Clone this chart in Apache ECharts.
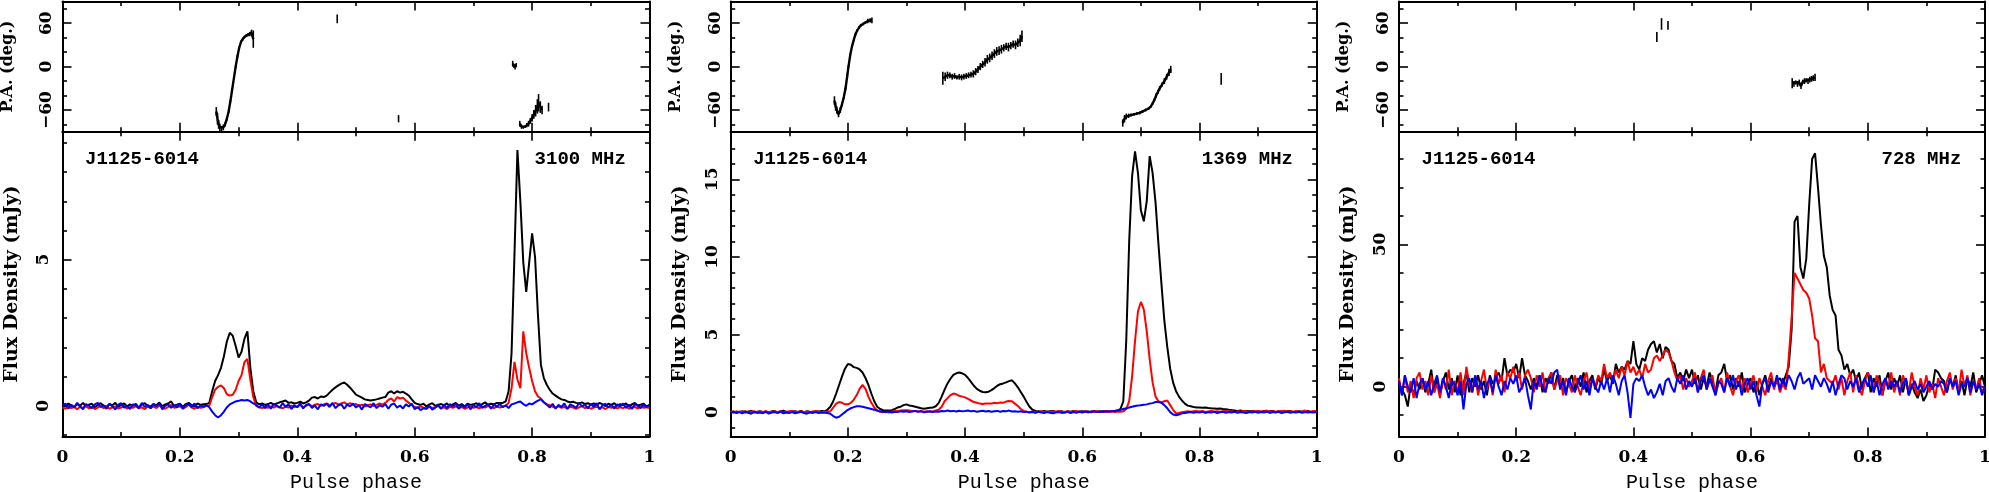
<!DOCTYPE html>
<html><head><meta charset="utf-8">
<script src="https://cdn.jsdelivr.net/npm/echarts@6/dist/echarts.min.js"></script>
<style>html,body{margin:0;padding:0;background:#fff}#c{width:1989px;height:492px}</style>
</head><body><div id="c"></div>
<script>
// ---------- data ----------
const pulsar = 'J1125-6014';
const freqs = ['3100 MHz', '1369 MHz', '728 MHz'];
const phaseStep = 0.005; // profile bin width (201 bins, 0..1)

// 3100 MHz: total intensity (I), linear (L), circular (V) in mJy
const i3100 = [0.05,-0.02,0.08,0.01,-0.04,0.06,0.0,0.1,-0.03,0.04,
0.07,-0.05,0.03,0.09,0.0,-0.03,0.06,0.02,0.1,-0.04,
0.03,0.08,-0.02,0.05,0.0,0.07,-0.06,0.04,0.09,0.01,
-0.03,0.06,0.02,0.11,-0.02,0.05,0.08,0.15,0.0,0.04,
0.07,-0.04,0.06,0.1,0.02,-0.03,0.08,0.03,0.05,0.06,
0.1,0.5,0.85,1.05,1.3,1.7,2.2,2.5,2.4,2.05,
1.65,1.85,2.3,2.55,1.3,0.5,0.12,0.05,0.08,0.03,
0.06,0.1,0.04,0.08,0.12,0.15,0.18,0.1,0.12,0.08,
0.1,0.14,0.08,0.12,0.18,0.28,0.3,0.25,0.32,0.3,
0.35,0.45,0.55,0.63,0.7,0.76,0.8,0.72,0.62,0.5,
0.38,0.33,0.28,0.22,0.2,0.18,0.2,0.22,0.25,0.28,
0.3,0.45,0.5,0.42,0.5,0.45,0.48,0.42,0.35,0.22,
0.1,0.06,0.03,0.07,-0.02,0.05,0.09,0.0,0.04,0.06,
0.02,0.08,-0.03,0.05,0.1,0.01,0.06,-0.02,0.07,0.03,
0.05,0.09,0.0,0.06,0.12,0.03,0.07,0.05,0.1,0.1,
0.1,0.15,0.5,1.8,5.2,8.75,7.0,4.9,3.9,4.9,
5.9,5.1,3.1,1.4,0.95,0.72,0.55,0.42,0.35,0.28,
0.22,0.2,0.15,0.12,0.14,0.1,0.08,0.12,0.06,0.09,
0.04,0.08,0.02,0.1,0.05,-0.01,0.07,0.03,0.09,0.0,
0.06,0.02,0.08,-0.03,0.05,0.1,0.01,0.04,0.07,-0.02,0.03];
const l3100 = [-0.05,-0.1,-0.02,-0.08,-0.04,-0.12,-0.03,-0.07,0.0,-0.09,
-0.04,-0.11,-0.06,0.01,-0.08,-0.03,-0.1,-0.05,-0.02,-0.09,
-0.06,0.0,-0.1,-0.04,-0.07,-0.01,-0.09,-0.05,-0.11,-0.03,
-0.07,-0.02,-0.08,0.02,-0.06,-0.1,-0.04,0.03,-0.07,-0.05,
-0.02,-0.09,-0.04,0.04,-0.06,-0.1,-0.03,-0.07,-0.05,0.0,
0.0,0.3,0.55,0.65,0.7,0.6,0.4,0.35,0.38,0.55,
0.85,1.05,1.5,1.6,0.9,0.3,0.0,-0.05,-0.08,-0.04,
-0.07,-0.02,-0.06,0.0,-0.05,-0.09,-0.03,-0.06,0.01,-0.04,
-0.02,0.03,-0.05,0.0,0.05,-0.02,0.04,0.06,0.0,0.05,
0.08,0.02,0.06,0.1,0.04,0.08,0.12,0.05,0.09,0.03,
0.06,0.0,0.04,-0.03,0.02,0.05,-0.01,0.03,0.08,0.04,
0.1,0.2,0.25,0.15,0.3,0.25,0.28,0.18,0.1,0.02,
-0.04,-0.08,-0.02,-0.06,-0.1,-0.03,-0.07,-0.05,0.0,-0.09,
-0.05,-0.11,-0.03,-0.07,-0.02,-0.08,-0.04,-0.1,-0.06,-0.01,
-0.07,-0.04,-0.09,-0.02,-0.06,0.0,-0.05,-0.08,-0.03,-0.06,
-0.02,0.0,0.1,0.6,1.5,0.9,0.6,2.55,1.8,1.3,
0.85,0.5,0.32,0.25,0.12,0.05,0.02,-0.03,-0.06,-0.02,
-0.07,-0.04,-0.09,-0.03,-0.06,-0.1,-0.05,-0.02,-0.08,-0.04,
-0.1,-0.06,-0.03,-0.08,-0.05,-0.11,-0.04,-0.07,-0.02,-0.09,
-0.05,-0.08,-0.03,-0.1,-0.06,-0.04,-0.09,-0.02,-0.07,-0.05,-0.08];
const v3100 = [0.0,0.08,-0.1,0.04,-0.06,0.1,-0.03,-0.12,0.06,0.0,
-0.08,0.05,0.1,-0.05,0.02,-0.1,0.07,-0.02,-0.13,0.04,
0.09,-0.06,0.0,-0.11,0.05,0.02,-0.08,0.1,-0.04,0.03,
-0.09,0.06,-0.02,0.08,-0.12,0.0,0.05,-0.07,0.03,-0.05,
0.07,-0.1,0.02,0.06,-0.04,0.08,-0.08,0.01,-0.03,0.02,
-0.05,-0.2,-0.32,-0.4,-0.32,-0.2,-0.05,0.05,0.1,0.15,
0.17,0.2,0.18,0.2,0.15,0.08,0.03,-0.06,0.05,-0.08,
0.04,-0.1,0.07,0.0,-0.06,0.09,-0.03,0.05,-0.11,0.02,
-0.05,0.08,-0.09,0.03,0.06,-0.07,0.01,-0.12,0.05,0.0,
0.07,-0.04,0.1,-0.08,0.02,0.05,-0.1,0.04,-0.02,0.08,
-0.06,0.03,-0.13,0.06,0.0,-0.05,0.09,-0.08,0.02,-0.03,
0.06,-0.1,0.04,0.08,-0.06,0.01,-0.09,0.05,-0.02,0.07,
-0.12,-0.04,-0.15,-0.08,-0.1,0.0,-0.13,-0.06,0.02,-0.1,
0.04,-0.08,0.06,-0.03,0.08,-0.1,0.02,-0.06,0.05,-0.12,
0.03,-0.05,0.09,-0.07,0.0,0.06,-0.1,0.04,-0.03,0.07,
-0.05,0.02,-0.08,0.05,0.08,0.12,0.15,0.06,0.0,0.08,
0.05,0.12,0.18,0.22,0.12,0.04,-0.06,0.07,-0.1,0.03,
-0.04,0.08,-0.11,0.05,0.0,-0.07,0.1,-0.02,0.04,-0.09,
0.06,-0.03,0.09,-0.12,0.02,0.07,-0.05,0.03,-0.1,0.05,
-0.02,0.08,-0.07,0.04,-0.11,0.06,0.0,-0.08,0.05,-0.04,0.02];

// 1369 MHz
const i1369 = [0.03,-0.02,0.05,0.0,0.06,-0.03,0.04,0.08,-0.01,0.02,
0.06,0.0,0.04,-0.04,0.05,0.07,-0.02,0.03,0.09,0.01,
-0.03,0.04,0.06,0.0,0.08,-0.02,0.05,0.02,-0.04,0.06,
0.03,0.07,0.05,0.15,0.35,0.7,1.2,1.75,2.3,2.8,
3.1,3.05,2.9,2.85,2.75,2.55,2.2,1.75,1.2,0.7,
0.35,0.2,0.12,0.1,0.1,0.12,0.2,0.3,0.35,0.45,
0.5,0.42,0.4,0.35,0.3,0.25,0.22,0.25,0.28,0.3,
0.38,0.6,1.0,1.45,1.85,2.15,2.4,2.5,2.55,2.5,
2.4,2.2,1.95,1.7,1.5,1.38,1.3,1.28,1.32,1.42,
1.55,1.7,1.8,1.85,1.92,2.0,2.05,1.85,1.6,1.3,
1.0,0.65,0.35,0.15,0.08,0.06,0.03,0.07,0.02,0.05,
0.08,0.01,0.04,0.06,-0.02,0.05,0.03,0.07,0.0,0.04,
0.06,0.02,0.05,-0.01,0.07,0.03,0.06,0.01,0.08,0.04,
0.05,0.08,0.1,0.2,0.7,4.6,11.0,15.2,16.8,15.4,
13.0,12.3,13.6,16.5,15.4,13.5,10.8,8.3,5.9,4.2,
2.8,1.9,1.35,1.0,0.75,0.55,0.42,0.38,0.33,0.3,
0.3,0.28,0.3,0.27,0.25,0.24,0.22,0.23,0.2,0.19,
0.15,0.13,0.1,0.08,0.1,0.06,0.08,0.05,0.07,0.04,
0.06,0.03,0.07,0.02,0.05,0.08,0.01,0.04,0.06,0.02,
0.05,0.07,0.0,0.04,0.06,0.02,0.05,0.08,0.01,0.04,0.03];
const l1369 = [0.02,0.05,-0.02,0.04,0.0,0.07,-0.03,0.03,0.06,-0.01,
0.04,0.01,0.06,-0.02,0.03,0.05,0.0,0.07,-0.03,0.02,
0.05,0.08,-0.01,0.03,0.06,0.0,0.04,-0.02,0.05,0.02,
0.06,0.0,0.03,0.02,0.05,0.3,0.55,0.65,0.6,0.5,
0.5,0.6,0.8,1.1,1.5,1.75,1.5,1.0,0.6,0.3,
0.1,0.02,0.0,0.03,-0.02,0.04,0.05,0.08,0.1,0.12,
0.12,0.1,0.08,0.06,0.04,0.07,0.02,0.05,0.03,0.06,
0.1,0.15,0.35,0.7,0.9,1.1,1.2,1.15,1.05,1.0,
0.95,0.85,0.75,0.65,0.6,0.55,0.52,0.55,0.55,0.55,
0.6,0.58,0.62,0.6,0.68,0.72,0.7,0.55,0.4,0.2,
0.08,0.02,0.0,0.04,-0.02,0.03,0.06,0.0,0.04,-0.01,
0.05,0.02,0.07,-0.02,0.03,0.06,0.0,0.04,0.08,0.01,
0.03,0.06,-0.01,0.05,0.02,0.07,0.0,0.04,0.06,0.02,
0.05,0.0,0.03,0.02,0.05,0.2,0.7,2.3,4.6,6.5,
7.1,6.6,5.2,3.4,1.9,1.0,0.7,0.62,0.7,0.75,
0.45,0.15,-0.08,-0.05,0.0,0.03,0.06,0.02,0.05,0.08,
0.04,0.07,0.01,0.05,0.09,0.03,0.06,0.02,0.05,0.08,
0.03,0.06,0.0,0.05,0.02,0.07,0.04,0.0,0.06,0.03,
0.08,0.02,0.05,0.1,0.03,0.06,0.01,0.07,0.04,0.09,
0.02,0.06,0.03,0.08,0.0,0.05,0.1,0.04,0.02,0.07,0.03];
const v1369 = [-0.03,0.02,-0.06,0.0,-0.08,0.03,-0.04,-0.1,0.01,-0.05,
-0.02,-0.07,0.02,-0.09,-0.03,0.0,-0.06,0.03,-0.08,-0.02,
-0.05,0.01,-0.07,-0.03,0.02,-0.06,-0.1,-0.01,-0.04,0.0,
-0.06,-0.02,-0.04,-0.05,-0.1,-0.25,-0.36,-0.3,-0.15,0.0,
0.15,0.25,0.32,0.38,0.38,0.35,0.3,0.25,0.2,0.15,
0.1,0.05,0.02,0.0,0.04,-0.02,0.03,0.0,0.05,0.02,
0.06,0.01,0.04,0.08,0.02,0.05,-0.01,0.03,0.06,0.0,
0.04,0.02,0.07,0.05,0.1,0.06,0.08,0.04,0.09,0.05,
0.07,0.1,0.05,0.08,0.03,0.06,0.09,0.04,0.07,0.02,
0.06,0.08,0.03,0.07,0.05,0.1,0.04,0.06,0.02,0.05,
0.0,0.03,-0.03,0.01,-0.05,0.02,-0.02,-0.06,0.0,-0.04,
-0.07,-0.02,0.01,-0.05,-0.03,0.02,-0.06,0.0,-0.04,0.03,
-0.02,0.04,-0.01,0.02,0.05,0.0,0.03,0.06,0.02,0.04,
0.05,0.08,0.1,0.15,0.2,0.25,0.3,0.35,0.4,0.42,
0.45,0.48,0.5,0.55,0.58,0.65,0.65,0.6,0.45,0.25,
0.0,-0.15,-0.2,-0.15,-0.08,-0.05,-0.02,0.01,-0.04,0.0,
-0.03,0.02,-0.05,0.0,-0.02,0.03,-0.06,-0.01,0.02,-0.04,
0.0,-0.03,0.02,-0.05,0.01,-0.02,-0.06,0.0,-0.03,0.02,
-0.04,0.01,-0.02,0.03,-0.05,0.0,-0.03,0.02,-0.06,-0.01,
0.02,-0.04,0.0,-0.02,0.03,-0.05,0.01,-0.03,0.0,-0.02,0.01];

// 728 MHz
const i728 = [0,-1,-3,-7,1,-3,2,-1,3,-2,
1,6,-2,3,-3,2,5,-1,3,-2,
4,-3,1,5,-2,3,0,4,-1,2,
-3,4,1,3,5,2,10,4,6,5,
8,3,10,4,2,-1,3,0,4,-2,
3,1,5,-1,4,0,3,-2,2,4,
-1,3,0,5,-2,2,4,-1,3,1,
6,2,4,1,8,5,7,6,9,8,
16,8,6,10,9,13,15,16,12,15,
10,14,13,9,8,3,5,2,6,3,
6,1,4,-1,3,0,5,2,-2,4,
5,8,2,4,-1,3,0,5,-2,1,
3,-2,2,-3,1,4,-1,3,0,2,
3,1,4,7,20,58,60,42,38,45,
64,80,82,70,57,46,42,32,27,25,
13,11,6,8,4,6,2,5,-1,3,
5,-2,3,0,4,-3,2,5,-1,3,
0,4,-2,3,-3,1,-2,-4,-1,-5,
-3,1,-1,6,5,3,2,-2,3,0,
4,-2,2,-3,3,0,5,-2,1,4,0];
const l728 = [3,-3,4,-2,2,-4,3,5,-1,2,
-3,4,-2,1,-4,3,-1,6,-3,2,
-2,5,-3,7,1,-2,4,-3,2,6,
-1,3,-3,6,1,4,-2,5,3,7,
2,5,-1,4,6,3,-2,4,0,5,
-2,3,5,-1,2,4,-3,3,1,-2,
4,0,-3,2,5,-1,3,0,4,2,
8,3,5,2,6,3,7,4,9,5,
7,4,6,3,8,5,6,10,11,9,
11,13,12,9,5,2,4,-1,3,0,
2,5,-2,3,6,-1,2,4,-3,1,
3,-2,5,0,-3,2,4,-1,3,-2,
1,4,-2,3,0,-3,2,5,-1,3,
-2,1,-1,10,24,40,38,36,34,33,
31,25,17,16,5,8,3,2,1,4,
-1,3,-3,2,5,-2,4,0,-3,2,
5,3,-2,4,1,-3,3,0,5,-2,
2,-3,4,1,-2,5,0,-3,3,-1,
4,-2,1,-4,3,0,-3,2,5,-1,
3,-2,6,0,4,-3,2,-1,3,-2,0];
const v728 = [2,-3,4,0,-2,3,-4,1,3,-1,
2,-3,1,4,-2,3,0,-4,2,1,
-3,2,-8,1,3,-2,4,-1,2,-4,
1,3,-2,4,0,-3,2,-1,3,1,
4,-2,0,3,-3,-8,2,-1,4,0,
-2,3,1,5,6,-1,2,-3,3,0,
-2,1,4,-1,2,-3,3,0,-2,2,
-1,3,-2,4,1,-3,2,4,-2,-11,
1,3,2,4,0,-3,-1,-4,-2,1,
-3,2,3,0,-2,3,1,4,-1,2,
0,3,-2,2,4,-1,3,0,-3,2,
1,-2,3,0,4,-1,2,-3,1,3,
-1,2,-3,-7,1,3,-2,2,0,4,
-1,3,0,4,2,-1,3,5,1,2,
3,-1,4,2,0,3,1,-2,2,-3,
1,4,3,-1,2,0,3,-2,1,3,
0,4,-2,2,-3,1,3,-1,2,0,
2,-2,1,3,-3,0,2,-1,1,-2,
0,2,-1,1,0,2,1,-2,3,0,
2,-3,1,0,3,-2,2,-1,1,-3,0];

// Position angle segments: [phase, PA (deg), error (deg)]
const pa3100 = [
 [[0.262,-62,6],[0.264,-72,8],[0.266,-80,6],[0.268,-84,5],[0.271,-86,4],[0.274,-84,4],[0.277,-80,3],[0.280,-72,3],[0.283,-62,2],[0.286,-48,2],[0.289,-32,2],[0.292,-16,2],[0.295,0,2],[0.298,14,2],[0.301,26,2],[0.304,34,2],[0.307,38,2],[0.310,41,2],[0.313,43,2],[0.316,44,2],[0.319,45,3],[0.322,47,4],[0.325,38,12]],
 [[0.468,66,6]],
 [[0.5725,-72,5]],
 [[0.767,4,4],[0.769,1,3],[0.771,-1,3],[0.773,2,3]],
 [[0.779,-79,4],[0.782,-83,3],[0.785,-84,2],[0.788,-83,2],[0.791,-81,3],[0.794,-79,4],[0.797,-75,4],[0.800,-71,5],[0.803,-66,6],[0.806,-61,8],[0.809,-55,10],[0.811,-50,12],[0.814,-56,8],[0.817,-60,6]],
 [[0.828,-56,6]]
];
const pa1369 = [
 [[0.177,-47,6],[0.179,-55,6],[0.181,-60,5],[0.184,-66,4],[0.187,-60,4],[0.190,-52,3],[0.193,-42,3],[0.196,-30,3],[0.199,-12,3],[0.201,0,2],[0.204,16,2],[0.207,28,2],[0.210,37,2],[0.213,45,2],[0.216,50,2],[0.219,54,2],[0.222,57,2],[0.226,59,2],[0.230,61,2],[0.234,63,3],[0.238,64,3],[0.241,64,4]],
 [[0.362,-16,9],[0.366,-14,6],[0.370,-12,5],[0.374,-12,4],[0.378,-14,4],[0.382,-13,4],[0.386,-15,3],[0.390,-14,4],[0.394,-15,4],[0.398,-14,4],[0.402,-13,4],[0.406,-12,4],[0.410,-11,4],[0.414,-10,5],[0.418,-7,5],[0.422,-4,5],[0.426,0,5],[0.430,3,5],[0.434,6,6],[0.438,10,6],[0.442,12,6],[0.446,15,6],[0.450,18,6],[0.454,21,6],[0.458,22,6],[0.462,24,6],[0.466,26,5],[0.470,28,5],[0.474,27,6],[0.478,29,5],[0.482,31,5],[0.486,30,6],[0.490,33,6],[0.494,36,8],[0.497,42,8]],
 [[0.669,-78,5],[0.672,-72,5],[0.675,-69,4],[0.679,-68,3],[0.683,-67,2],[0.688,-66,2],[0.693,-65,2],[0.698,-64,2],[0.703,-62,2],[0.708,-60,2],[0.713,-58,2],[0.717,-55,2],[0.720,-51,2],[0.723,-46,2],[0.726,-40,3],[0.729,-35,3],[0.732,-30,3],[0.736,-25,3],[0.740,-20,4],[0.744,-14,4],[0.748,-8,5],[0.751,-4,5]],
 [[0.837,-17,8]]
];
const pa728 = [
 [[0.440,41,7]],
 [[0.448,59,8]],
 [[0.459,57,6]],
 [[0.671,-23,7],[0.674,-24,4],[0.677,-22,3],[0.680,-24,4],[0.683,-22,4],[0.686,-27,4],[0.689,-21,3],[0.692,-20,4],[0.695,-19,3],[0.698,-20,4],[0.701,-18,4],[0.704,-17,4],[0.707,-16,4],[0.710,-15,5]]
];

// Axis ticks
const phaseMajor = [0, 0.2, 0.4, 0.6, 0.8, 1];
const phaseMinor = [0.1, 0.3, 0.5, 0.7, 0.9];
const paRange = [-90, 90];
const paMajor = [-60, 0, 60];
const paMinor = [-80, -40, -20, 20, 40, 80];
const fluxRanges = [[-1.05, 9.38], [-1.57, 18.07], [-17.5, 89.6]];
const fluxMajor = [[0, 5], [0, 5, 10, 15], [0, 50]];
const fluxMinor = [[-1,1,2,3,4,6,7,8,9], [-1,1,2,3,4,6,7,8,9,11,12,13,14,16,17], [-10,10,20,30,40,60,70,80]];

const profiles = [[i3100, l3100, v3100], [i1369, l1369, v1369], [i728, l728, v728]];
const paData = [pa3100, pa1369, pa728];
const colors = ['#000000', '#ff0000', '#0000ff'];

// ---------- layout ----------
const panelLeft = [62.5, 730.7, 1399];
const panelWidth = [587, 586, 586];
const paTop = 1.5, paBottom = 131.7, fluxBottom = 436.5;

const TICKFONT = {fontFamily: 'DejaVu Serif', fontWeight: 'bold', fontSize: 17, color: '#000'};
const AXLINE = {color: '#000', width: 2};
const TKLINE = {color: '#000', width: 1.6};
const grids = [], xAxes = [], yAxes = [], series = [], titles = [];

function addX(g, pos, ticks, len, major, label, name) {
  xAxes.push({
    type: 'value', gridIndex: g, position: pos, min: 0, max: 1,
    axisLine: {show: major, onZero: false, lineStyle: AXLINE},
    axisTick: {show: true, inside: true, length: len, customValues: ticks, lineStyle: TKLINE},
    axisLabel: label ? Object.assign({show: true, customValues: ticks, margin: 13, formatter: v => String(v)}, TICKFONT) : {show: false},
    splitLine: {show: false}, axisPointer: {show: false},
    name: name || '', nameLocation: 'middle', nameGap: 36,
    nameTextStyle: {fontFamily: 'Liberation Mono', fontSize: 20, color: '#000'}
  });
  return xAxes.length - 1;
}
function addY(g, pos, range, ticks, len, major, label, name, labelMargin, nameGap, nameSize) {
  yAxes.push({
    type: 'value', gridIndex: g, position: pos, min: range[0], max: range[1],
    axisLine: {show: major, onZero: false, lineStyle: AXLINE},
    axisTick: {show: true, inside: true, length: len, customValues: ticks, lineStyle: TKLINE},
    axisLabel: label ? Object.assign({show: true, customValues: ticks, rotate: 90, margin: labelMargin,
      formatter: v => (v < 0 ? '\u2212' : '') + Math.abs(v)}, TICKFONT) : {show: false},
    splitLine: {show: false}, axisPointer: {show: false},
    name: name || '', nameLocation: 'middle', nameGap: nameGap || 0, nameRotate: 90,
    nameTextStyle: {fontFamily: 'DejaVu Serif', fontWeight: 'bold', fontSize: nameSize || 16, color: '#000'}
  });
  return yAxes.length - 1;
}

const phases = i3100.map((_, k) => +(k * phaseStep).toFixed(4));

for (let p = 0; p < 3; p++) {
  const L = panelLeft[p], W = panelWidth[p];
  // PA grid
  const gPA = grids.length;
  grids.push({left: L, top: paTop, width: W, height: paBottom - paTop, containLabel: false, outerBoundsMode: 'none', show: false});
  const xPA = addX(gPA, 'bottom', phaseMajor, 9, true, false);
  addX(gPA, 'bottom', phaseMinor, 4.5, false, false);
  addX(gPA, 'top', phaseMajor, 9, true, false);
  addX(gPA, 'top', phaseMinor, 4.5, false, false);
  const yPA = addY(gPA, 'left', paRange, paMajor, 9, true, true, 'P.A. (deg.)', 7, 47, 16);
  addY(gPA, 'left', paRange, paMinor, 4.5, false, false);
  addY(gPA, 'right', paRange, paMajor, 9, true, false);
  addY(gPA, 'right', paRange, paMinor, 4.5, false, false);

  // Flux grid
  const gF = grids.length;
  grids.push({left: L, top: paBottom, width: W, height: fluxBottom - paBottom, containLabel: false, outerBoundsMode: 'none', show: false});
  const xF = addX(gF, 'bottom', phaseMajor, 9, true, true, 'Pulse phase');
  addX(gF, 'bottom', phaseMinor, 4.5, false, false);
  addX(gF, 'top', phaseMajor, 9, true, false);
  addX(gF, 'top', phaseMinor, 4.5, false, false);
  const yF = addY(gF, 'left', fluxRanges[p], fluxMajor[p], 9, true, true, 'Flux Density (mJy)', 10, 41, 19);
  addY(gF, 'left', fluxRanges[p], fluxMinor[p], 4.5, false, false);
  addY(gF, 'right', fluxRanges[p], fluxMajor[p], 9, true, false);
  addY(gF, 'right', fluxRanges[p], fluxMinor[p], 4.5, false, false);

  // profiles: I, L, V
  profiles[p].forEach((vals, s) => {
    series.push({
      type: 'line', xAxisIndex: xF, yAxisIndex: yF, symbol: 'none', showSymbol: false,
      data: vals.map((v, k) => [phases[k], v]),
      lineStyle: {color: colors[s], width: 2}, z: 2 + s, silent: true, animation: false
    });
  });

  // PA curve and error bars
  const lineData = [], errData = [];
  paData[p].forEach(seg => {
    seg.forEach(pt => { lineData.push([pt[0], pt[1]]); errData.push(pt); });
    lineData.push([seg[seg.length - 1][0], null]);
  });
  series.push({
    type: 'line', xAxisIndex: xPA, yAxisIndex: yPA, symbol: 'none', showSymbol: false,
    connectNulls: false, data: lineData, lineStyle: {color: '#000', width: 2.4}, silent: true, animation: false
  });
  series.push({
    type: 'custom', xAxisIndex: xPA, yAxisIndex: yPA, data: errData, encode: {x: 0, y: 1},
    silent: true, animation: false,
    renderItem: (params, api) => {
      const x = api.value(0), y = api.value(1), e = api.value(2);
      const a = api.coord([x, y - e]), b = api.coord([x, y + e]);
      return {type: 'line', shape: {x1: a[0], y1: a[1], x2: b[0], y2: b[1]}, style: {stroke: '#000', lineWidth: 1.6}};
    }
  });

  // labels
  const tstyle = {fontFamily: 'Liberation Mono', fontWeight: 'bold', fontSize: 19, color: '#000'};
  titles.push({text: pulsar, left: L + 22.5, top: 149.5, padding: 0, textStyle: tstyle});
  titles.push({text: freqs[p], right: 1989 - (L + W) + 23.7, top: 149.5, padding: 0, textStyle: tstyle});
}

const chart = echarts.init(document.getElementById('c'), null, {renderer: 'canvas'});
chart.setOption({
  animation: false,
  backgroundColor: '#fff',
  title: titles,
  grid: grids,
  xAxis: xAxes,
  yAxis: yAxes,
  series: series
});
</script></body></html>
